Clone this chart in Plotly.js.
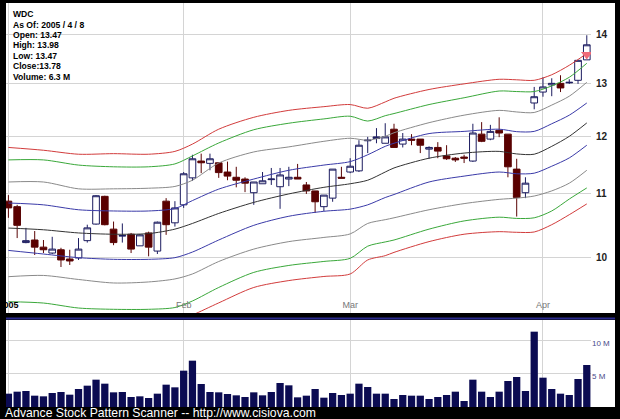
<!DOCTYPE html>
<html><head><meta charset="utf-8">
<script src="https://cdn.plot.ly/plotly-3.0.1.min.js"></script>
<style>html,body{margin:0;padding:0;background:#000;} #chart{width:620px;height:419px;}</style>
</head><body><div id="chart"></div>
<script>
// ---- data ----
const dates = [
 '2005-01-03','2005-01-04','2005-01-05','2005-01-06','2005-01-07','2005-01-10','2005-01-11','2005-01-12','2005-01-13','2005-01-14',
 '2005-01-18','2005-01-19','2005-01-20','2005-01-21','2005-01-24','2005-01-25','2005-01-26','2005-01-27','2005-01-28','2005-01-31',
 '2005-02-01','2005-02-02','2005-02-03','2005-02-04','2005-02-07','2005-02-08','2005-02-09','2005-02-10','2005-02-11','2005-02-14',
 '2005-02-15','2005-02-16','2005-02-17','2005-02-18','2005-02-22','2005-02-23','2005-02-24','2005-02-25','2005-02-28','2005-03-01',
 '2005-03-02','2005-03-03','2005-03-04','2005-03-07','2005-03-08','2005-03-09','2005-03-10','2005-03-11','2005-03-14','2005-03-15',
 '2005-03-16','2005-03-17','2005-03-18','2005-03-21','2005-03-22','2005-03-23','2005-03-24','2005-03-28','2005-03-29','2005-03-30',
 '2005-03-31','2005-04-01','2005-04-04','2005-04-05','2005-04-06','2005-04-07','2005-04-08'];
const openP = [10.88,10.79,10.22,10.26,10.15,10.06,10.11,9.97,9.985,10.25, 10.51,10.96,10.43,10.32,10.35,10.17,10.37,10.09,10.88,10.53,
 10.82,11.27,11.56,11.52,11.53,11.37,11.28,11.25,11.02,11.17, 11.24,11.12,11.25,11.28,11.15,11.05,10.79,10.93,11.28,11.37,
 11.39,11.92,11.96,11.875,12.13,11.86,11.95,11.95,11.77,11.80, 11.65,11.61,11.63,11.56,12.04,11.95,12.11,12.04,11.42,11.02,
 12.62,12.83,12.97,13.00,13.01,13.06,13.47];
const highP = [10.98,10.82,10.45,10.40,10.26,10.31,10.14,10.11,10.29,10.50, 10.98,10.97,10.55,10.52,10.37,10.35,10.39,10.55,10.93,10.88,
 11.37,11.67,11.69,11.69,11.53,11.55,11.46,11.28,11.20,11.37, 11.44,11.44,11.46,11.51,11.20,11.05,10.98,11.42,11.46,11.61,
 11.93,11.99,12.15,12.24,12.23,12.06,12.04,11.95,11.82,11.895, 11.84,11.63,11.67,12.23,12.26,12.21,12.35,12.04,11.60,11.28,
 12.93,13.12,13.10,13.16,13.08,13.46,13.98];
const lowP = [10.61,10.29,10.21,10.03,10.06,10.045,9.85,9.88,9.955,10.22, 10.50,10.49,10.18,10.22,10.06,10.17,10.01,10.045,10.34,10.47,
 10.77,11.22,11.35,11.40,11.27,11.23,11.11,11.03,10.82,11.17, 11.15,10.755,11.13,11.25,11.00,10.69,10.72,10.87,11.265,11.35,
 11.37,11.70,11.875,11.875,11.80,11.80,11.84,11.70,11.60,11.61, 11.58,11.545,11.525,11.545,11.895,11.93,11.985,11.28,10.63,10.93,
 12.50,12.74,12.75,12.83,12.99,12.99,13.47];
const closeP = [10.77,10.49,10.25,10.15,10.11,10.12,9.955,9.94,10.12,10.45, 10.97,10.50,10.22,10.33,10.12,10.34,10.15,10.54,10.50,10.77,
 11.34,11.60,11.53,11.60,11.36,11.30,11.23,11.18,11.20,11.22, 11.25,11.32,11.28,11.25,11.05,10.87,10.98,11.42,11.265,11.47,
 11.84,11.93,11.99,11.99,11.80,11.95,11.93,11.84,11.80,11.735, 11.60,11.58,11.61,12.06,11.91,12.09,12.06,11.46,10.94,11.18,
 12.74,12.93,13.00,12.91,13.02,13.46,13.78];
const volumeM = [2.0,2.3,2.4,1.7,1.6,2.1,2.25,1.85,2.7,3.2, 4.1,3.5,2.2,2.25,1.5,1.6,1.35,2.0,3.35,2.95,
 5.45,6.95,3.45,2.25,2.2,1.95,1.75,1.5,2.2,1.75, 2.25,3.6,3.25,1.45,1.7,2.7,1.4,2.1,1.8,2.0,
 3.5,3.0,2.0,2.0,1.2,1.8,1.7,1.7,1.2,1.5, 1.8,2.3,0.9,4.1,2.3,1.5,2.3,3.9,4.5,2.4,
 11.3,4.4,2.7,2.0,1.8,4.2,6.3];

// envelope lines, sampled at these trading-day positions
const bandIdx   = [0,4,8,12,16,19,21,24,28,32,36,39,41,43,44,48,52,56,58,60,62,64,66];
const redUpper  = [11.80,11.75,11.68,11.69,11.68,11.73,11.86,12.13,12.35,12.48,12.55,12.59,12.52,12.64,12.71,12.88,12.99,13.08,13.07,13.06,13.17,13.36,13.60];
const greenUpper= [11.58,11.58,11.49,11.46,11.46,11.51,11.65,11.88,12.12,12.24,12.32,12.37,12.28,12.38,12.42,12.59,12.72,12.85,12.84,12.84,12.95,13.12,13.40];
const greyUpper = [11.20,11.20,11.085,11.085,11.095,11.125,11.23,11.525,11.72,11.81,11.91,11.965,11.93,12.00,12.065,12.25,12.39,12.48,12.45,12.44,12.58,12.75,13.02];
const blueUpper = [10.85,10.82,10.74,10.72,10.72,10.76,10.89,11.08,11.25,11.40,11.49,11.55,11.67,11.82,11.875,12.05,12.09,12.13,12.085,12.09,12.23,12.39,12.62];
const midLine   = [10.447,10.42,10.37,10.35,10.36,10.43,10.52,10.68,10.86,11.00,11.11,11.17,11.23,11.37,11.44,11.61,11.70,11.73,11.685,11.68,11.82,12.00,12.245];
const blueLower = [10.10,10.045,9.99,9.965,9.965,9.99,10.075,10.26,10.49,10.635,10.715,10.75,10.82,10.94,10.99,11.20,11.30,11.37,11.34,11.35,11.47,11.615,11.84];
const greyLower = [9.707,9.725,9.666,9.615,9.63,9.674,9.747,9.932,10.12,10.235,10.30,10.355,10.52,10.58,10.61,10.74,10.84,10.91,10.93,10.965,11.05,11.18,11.40];
const greenLower= [9.347,9.328,9.258,9.24,9.24,9.265,9.357,9.55,9.77,9.873,9.933,9.98,10.165,10.23,10.26,10.43,10.56,10.62,10.60,10.61,10.72,10.915,11.10];
const redLower  = [9.147,9.133,9.065,9.05,9.05,9.07,9.161,9.33,9.55,9.65,9.71,9.747,9.955,10.02,10.07,10.235,10.35,10.39,10.38,10.385,10.50,10.66,10.835];

const signalDates = ['2005-04-08'];
const signalPrice = [13.58];

const tickDates = ['2005-01-03','2005-02-01','2005-03-01','2005-04-01'];
const tickLabels = ['<span style="color:#000;font-weight:bold">2005</span>','Feb','Mar','Apr'];
const priceTicks = [10,11,12,13,14];
const volTicks = [5,10];
const volTickLabels = ['5 M','10 M'];
const infoLines = ['WDC','As Of: 2005 / 4 / 8','Open: 13.47','High: 13.98','Low: 13.47','Close:13.78','Volume: 6.3 M'];
const footer = 'Advance Stock Pattern Scanner -- http://www.cisiova.com';

// ---- layout helpers ----
const W = 620, H = 419;
const px = v => v / W;
const py = v => 1 - v / H;
const FONT = 'Liberation Sans, Arial, sans-serif';

const bandX = bandIdx.map(i => dates[i]);
const bandDefs = [
  [redUpper,'#d23c3c'],[greenUpper,'#3aa83a'],[greyUpper,'#8a8a8a'],[blueUpper,'#3a3aa8'],
  [midLine,'#333333'],
  [blueLower,'#3a3aa8'],[greyLower,'#8a8a8a'],[greenLower,'#3aa83a'],[redLower,'#d23c3c']
];
const traces = [];
bandDefs.forEach(([vals,col]) => traces.push({
  type:'scatter', mode:'lines', x:bandX, y:vals, xaxis:'x', yaxis:'y',
  line:{color:col, width:1, shape:'spline', smoothing:0.8}, hoverinfo:'skip', showlegend:false
}));
traces.push({
  type:'candlestick', x:dates, open:openP, high:highP, low:lowP, close:closeP,
  xaxis:'x', yaxis:'y', showlegend:false, whiskerwidth:0,
  increasing:{line:{color:'#1c1c60', width:1}, fillcolor:'#ffffff'},
  decreasing:{line:{color:'#5a0505', width:1}, fillcolor:'#5a0000'}
});
traces.push({
  type:'scatter', mode:'markers', x:signalDates, y:signalPrice, xaxis:'x', yaxis:'y',
  marker:{symbol:'triangle-down', size:10, color:'#f06a78', line:{width:0}}, showlegend:false
});
traces.push({
  type:'bar', x:dates, y:volumeM, xaxis:'x2', yaxis:'y2',
  marker:{color:'#0b0b52', line:{width:0}}, showlegend:false
});

const xDom = [px(6), px(591)];
const xRange = [-0.274, 66.48];
const grid = '#d4d4d4';

const annotations = infoLines.map((t,k) => ({
  xref:'paper', yref:'paper', x:px(11), y:py(14.3 + k*10.4), xanchor:'left', yanchor:'middle',
  text:t, showarrow:false, font:{family:FONT, size:8.6, color:'#000', weight:'bold'}
}));
annotations.push({
  xref:'paper', yref:'paper', x:px(3), y:py(413), xanchor:'left', yanchor:'middle',
  text:footer, showarrow:false, font:{family:FONT, size:12.2, color:'#ffffff'}
});

const layout = {
  width:W, height:H, margin:{l:0,r:0,t:0,b:0},
  paper_bgcolor:'#000000', plot_bgcolor:'#ffffff',
  showlegend:false, boxgap:0.24, boxgroupgap:0, bargap:0.17, boxmode:'overlay',
  font:{family:FONT},
  xaxis:{
    type:'category', categoryorder:'array', categoryarray:dates,
    domain:xDom, anchor:'y', range:xRange,
    rangeslider:{visible:false},
    tickmode:'array', tickvals:tickDates, ticktext:tickLabels,
    ticklabelposition:'inside', ticklabeloverflow:'allow', ticks:'',
    tickfont:{family:FONT, size:9, color:'#777'},
    showgrid:true, gridcolor:grid, gridwidth:1, zeroline:false, showline:false
  },
  yaxis:{
    type:'log', domain:[py(313), py(3)], anchor:'x', side:'right',
    range:[0.96325, 1.16667], tickmode:'array', tickvals:priceTicks, ticktext:priceTicks.map(String),
    ticks:'', ticklabelstandoff:4,
    tickfont:{family:FONT, size:10, color:'#222', weight:'bold'},
    showgrid:true, gridcolor:grid, gridwidth:1, zeroline:false, showline:false
  },
  xaxis2:{
    type:'category', categoryorder:'array', categoryarray:dates,
    domain:xDom, anchor:'y2', range:xRange,
    tickmode:'array', tickvals:tickDates, showticklabels:false, ticks:'',
    showgrid:true, gridcolor:grid, gridwidth:1, zeroline:false, showline:false
  },
  yaxis2:{
    domain:[py(407), py(320)], anchor:'x2', side:'right', range:[0, 13.05],
    tickmode:'array', tickvals:volTicks, ticktext:volTickLabels, ticks:'', ticklabelstandoff:0, ticklabelshift:3,
    tickfont:{family:FONT, size:8, color:'#4a4a8a'},
    showgrid:true, gridcolor:grid, gridwidth:1, zeroline:false, showline:false
  },
  shapes:[
    {type:'rect', xref:'paper', yref:'paper', x0:px(590), x1:px(615), y0:py(313), y1:py(3), fillcolor:'#ffffff', line:{width:0}, layer:'below'},
    {type:'rect', xref:'paper', yref:'paper', x0:px(590), x1:px(615), y0:py(407), y1:py(320), fillcolor:'#ffffff', line:{width:0}, layer:'below'},
    {type:'line', xref:'paper', yref:'paper', x0:px(6), x1:px(615), y0:py(318.5), y1:py(318.5), line:{color:'#2a2a8c', width:2}}
  ],
  annotations:annotations
};

Plotly.newPlot('chart', traces, layout, {staticPlot:true, displayModeBar:false});
</script>
</body></html>
